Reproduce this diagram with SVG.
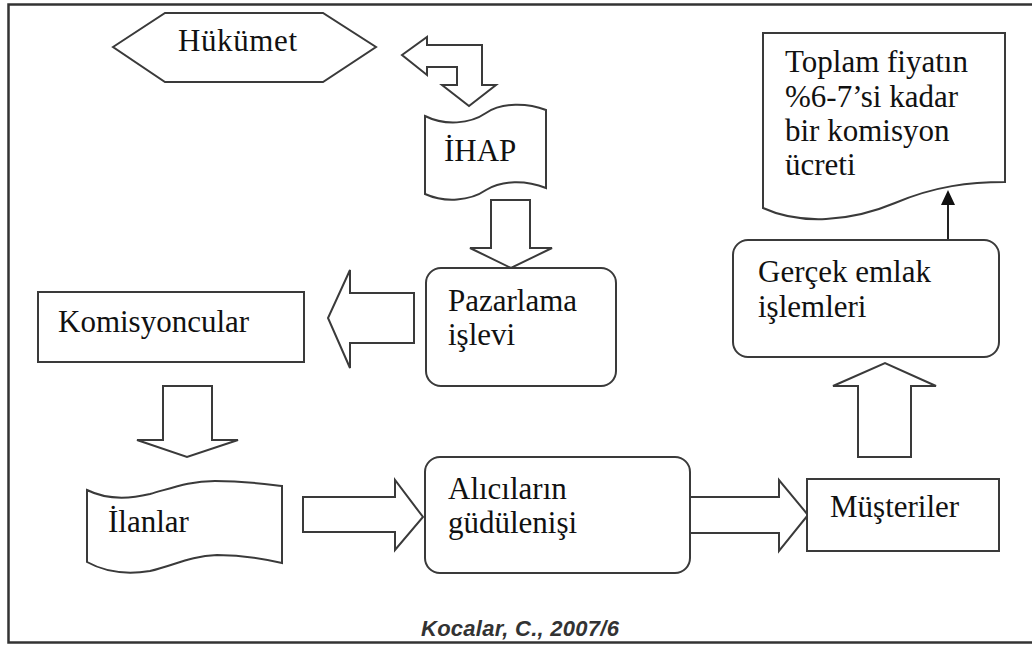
<svg xmlns="http://www.w3.org/2000/svg" width="1032" height="646" viewBox="0 0 1032 646">
  <style>
    .shape { fill: #ffffff; stroke: #3a3a3a; stroke-width: 2; stroke-linejoin: miter; }
    .label { font-family: "Liberation Serif", "Times New Roman", serif; font-size: 31px; fill: #111111; }
    .caption { font-family: "Liberation Sans", Arial, sans-serif; font-size: 22px; font-weight: bold; font-style: italic; fill: #333333; }
    .thin { stroke: #222222; stroke-width: 2; fill: none; }
  </style>

  <rect width="1032" height="646" fill="#ffffff"/>
  <!-- outer frame -->
  <rect x="8.5" y="4.5" width="1030" height="638" fill="none" stroke="#333333" stroke-width="2.5"/>

  <!-- block arrows and links -->
  <g id="connectors">
    <!-- two-way bent arrow between Hükümet and İHAP -->
    <polygon class="shape" points="402,55 427,37 427,45 482,45 482,85 496,85 469,106 442,85 457,85 457,67 427,67 427,75"/>
    <!-- İHAP to Pazarlama -->
    <polygon class="shape" points="491,200 530,200 530,248 552,248 511,268 470,248 491,248"/>
    <!-- Pazarlama to Komisyoncular -->
    <polygon class="shape" points="414,293 414,343 350,343 350,368 328,318 350,270 350,293"/>
    <!-- Komisyoncular to İlanlar -->
    <polygon class="shape" points="163,386 212,386 212,440 238,440 187,457 137,440 163,440"/>
    <!-- İlanlar to Alıcıların -->
    <polygon class="shape" points="303,497 395,497 395,480 423,517 395,550 395,532 303,532"/>
    <!-- Alıcıların to Müşteriler -->
    <polygon class="shape" points="689,497 779,497 779,480 808,515 779,551 779,533 689,533"/>
    <!-- Müşteriler to Gerçek emlak -->
    <polygon class="shape" points="858,457 858,386 833,386 885,363 936,386 911,386 911,457"/>
    <!-- Gerçek emlak to commission note -->
    <line class="thin" x1="948" y1="240" x2="948" y2="203"/>
    <polygon points="948,190 941,205 955,205" fill="#111111"/>
  </g>

  <g id="hukumet">
    <polygon class="shape" points="113,47 165,13 323,13 376,47 323,82 165,82"/>
    <text class="label" x="178" y="51" textLength="119">Hükümet</text>
  </g>

  <g id="ihap">
    <path class="shape" d="M425,116 C445,126 470,124 486,113 C502,102 528,103 546,110 L546,188 C526,180 502,180 486,190 C470,201 445,203 425,194 Z"/>
    <text class="label" x="444" y="161">İHAP</text>
  </g>

  <g id="pazarlama">
    <rect class="shape" x="426" y="268" width="190" height="118" rx="15"/>
    <text class="label" x="448" y="311">Pazarlama</text>
    <text class="label" x="448" y="345">işlevi</text>
  </g>

  <g id="komisyoncular">
    <rect class="shape" x="38" y="292" width="266" height="70"/>
    <text class="label" x="58" y="332">Komisyoncular</text>
  </g>

  <g id="ilanlar">
    <path class="shape" d="M87,490 C105,499 125,500 150,494 C175,487 190,481 215,481 C245,481 265,484 282,486 L282,563 C265,559 245,555 217,555 C190,556 175,565 150,571 C125,575 105,572 87,562 Z"/>
    <text class="label" x="108" y="532">İlanlar</text>
  </g>

  <g id="alicilar">
    <rect class="shape" x="425" y="457" width="265" height="116" rx="15"/>
    <text class="label" x="448" y="499">Alıcıların</text>
    <text class="label" x="448" y="533">güdülenişi</text>
  </g>

  <g id="musteriler">
    <rect class="shape" x="807" y="479" width="192" height="72"/>
    <text class="label" x="830" y="517">Müşteriler</text>
  </g>

  <g id="gercek-emlak">
    <rect class="shape" x="733" y="240" width="266" height="117" rx="15"/>
    <text class="label" x="758" y="282">Gerçek emlak</text>
    <text class="label" x="758" y="317">işlemleri</text>
  </g>

  <g id="komisyon-ucreti">
    <path class="shape" d="M763,33 L1005,33 L1005,182 C970,182 935,186 895,203 C850,222 800,225 763,208 Z"/>
    <text class="label" x="785" y="72">Toplam fiyatın</text>
    <text class="label" x="785" y="107">%6-7’si kadar</text>
    <text class="label" x="785" y="141">bir komisyon</text>
    <text class="label" x="785" y="175">ücreti</text>
  </g>

  <text class="caption" x="421" y="636" textLength="198">Kocalar, C., 2007/6</text>
</svg>
